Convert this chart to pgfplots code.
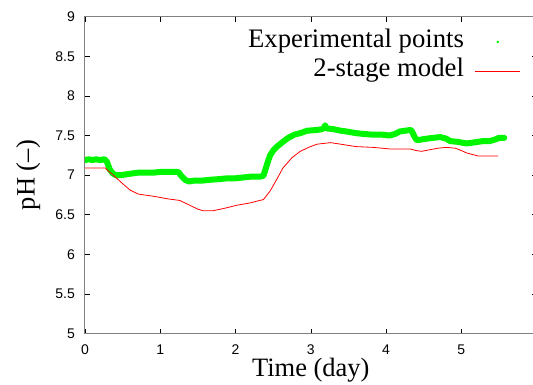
\documentclass[border=0pt]{standalone}
\usepackage{fontspec}
\setmainfont{Liberation Serif}
\newfontfamily\sansfont{Liberation Sans}
\usepackage{pgfplots}
\pgfplotsset{compat=1.18}
\definecolor{expgreen}{RGB}{0,245,0}
\definecolor{modred}{RGB}{255,0,0}
\definecolor{framegray}{RGB}{128,128,128}
\begin{document}
\begin{tikzpicture}
\begin{axis}[
  at={(0pt,0pt)}, anchor=south west,
  scale only axis,
  width=451.6pt, height=316.8pt,
  xmin=0, xmax=6, ymin=5, ymax=9,
  xtick={0,1,2,3,4,5},
  ytick={5,5.5,6,6.5,7,7.5,8,8.5,9},
  yticklabels={5,5.5,6,6.5,7,7.5,8,8.5,9},
  /pgf/number format/assume math mode=true,
  ticklabel style={font=\fontsize{14}{16}\sansfont},
  yticklabel style={anchor=east, inner sep=0pt, xshift=-10pt},
  xticklabel style={anchor=north, inner sep=0pt, yshift=-11pt},
  tick align=inside,
  major tick length=5pt,
  tick style={black, line width=0.5pt},
  axis line style={draw=framegray, line width=1pt},
  xlabel={Time (day)},
  ylabel={pH (–)},
  label style={font=\fontsize{26.5}{30}\selectfont},
  xlabel style={at={([yshift=-43.2pt]axis description cs:0.5,0)}, anchor=base, inner sep=0pt},
  ylabel style={at={([xshift=-50.4pt]axis description cs:0,0.5)}, anchor=base, inner sep=0pt},
  legend style={draw=none, fill=none, at={(0.972,0.9738)}, anchor=north east,
    font=\fontsize{26.7}{30}\selectfont,
    nodes={inner sep=0pt, text height=20pt, text depth=9.5pt},
    column sep=11pt, row sep=0pt},
  legend cell align=right,
  legend plot pos=right,
]
\addplot[expgreen, line width=6pt, line join=round, line cap=round,
  legend image code/.code={\fill[expgreen, draw=none] (22.5pt,0pt) circle (1.4pt); \path[draw=none, fill=none] (0pt,0pt) -- (45pt,0pt);}]
  coordinates {
(0,7.19) (0.05,7.20) (0.10,7.19) (0.15,7.20) (0.20,7.19) (0.26,7.20)
(0.29,7.17) (0.33,7.07) (0.37,7.02) (0.41,7.00) (0.48,7.00) (0.55,7.01)
(0.62,7.02) (0.70,7.03) (0.80,7.03) (0.90,7.03) (1.00,7.04) (1.10,7.04)
(1.20,7.04) (1.24,7.04) (1.28,6.99) (1.33,6.94) (1.38,6.92) (1.45,6.93)
(1.55,6.93) (1.65,6.94) (1.79,6.95) (1.90,6.96) (2.00,6.96) (2.10,6.97)
(2.20,6.98) (2.32,6.98) (2.37,6.99) (2.40,7.08) (2.43,7.17) (2.46,7.25)
(2.50,7.31) (2.55,7.36) (2.63,7.42) (2.70,7.47) (2.78,7.51) (2.86,7.53)
(2.95,7.56) (3.08,7.57) (3.15,7.58) (3.18,7.60) (3.19,7.63) (3.21,7.59)
(3.30,7.58) (3.40,7.56) (3.48,7.55) (3.60,7.53) (3.70,7.52) (3.83,7.51)
(3.95,7.51) (4.05,7.50) (4.12,7.52) (4.18,7.55) (4.25,7.56) (4.32,7.57)
(4.34,7.56) (4.38,7.48) (4.41,7.44) (4.47,7.45) (4.54,7.46) (4.62,7.47)
(4.72,7.48) (4.80,7.46) (4.85,7.43) (4.95,7.42) (5.07,7.40) (5.15,7.41)
(5.22,7.42) (5.29,7.43) (5.38,7.43) (5.45,7.45) (5.50,7.47) (5.57,7.47)
  };
\addlegendentry{Experimental points}
\addplot[modred, line width=0.8pt,
  legend image code/.code={\draw[modred, line width=0.8pt] (0pt,0pt) -- (45pt,0pt);}]
  coordinates {
(0,7.09) (0.27,7.09) (0.30,7.06) (0.376,7.00) (0.49,6.90) (0.60,6.81)
(0.71,6.76) (0.93,6.73) (1.10,6.70) (1.26,6.68) (1.39,6.62) (1.50,6.57)
(1.57,6.55) (1.70,6.55) (1.85,6.58) (2.02,6.62) (2.20,6.65) (2.32,6.68)
(2.37,6.69) (2.46,6.80) (2.55,6.95) (2.63,7.09) (2.75,7.22) (2.86,7.30)
(2.97,7.35) (3.08,7.39) (3.17,7.40) (3.26,7.41) (3.40,7.39) (3.60,7.36)
(3.83,7.35) (4.05,7.33) (4.32,7.33) (4.40,7.31) (4.47,7.30) (4.58,7.32)
(4.69,7.34) (4.80,7.35) (4.92,7.34) (5.00,7.31) (5.07,7.28) (5.15,7.26)
(5.23,7.24) (5.49,7.24)
  };
\addlegendentry{2-stage model}
\end{axis}
\pgfresetboundingbox
\path[use as bounding box] (-85pt,-50.5pt) rectangle (448pt,333.5pt);
\end{tikzpicture}
\end{document}
